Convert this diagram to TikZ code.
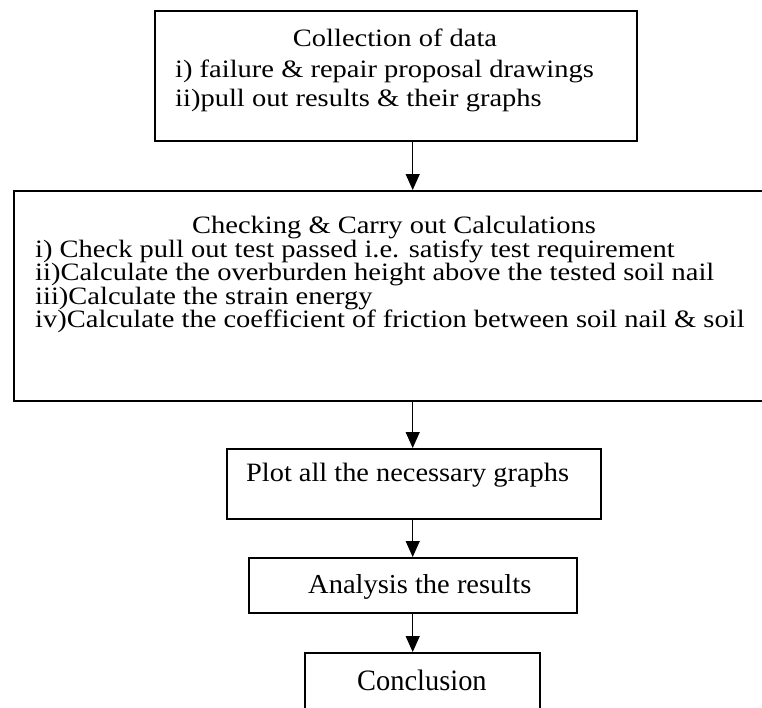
\documentclass[tikz,border=0pt]{standalone}
\usepackage{fontspec}
\setmainfont{Liberation Serif}
\newfontfamily\fa{Liberation Serif}[FakeStretch=1.14]
\newfontfamily\fb{Liberation Serif}[FakeStretch=1.07]
\newfontfamily\fc{Liberation Serif}[FakeStretch=1.04]
\newfontfamily\fd{Liberation Serif}[FakeStretch=0.96]
\usetikzlibrary{arrows.meta}
\tikzset{
  box/.style={draw=black, line width=1.6pt, rectangle, inner sep=0pt, anchor=north west},
  txt/.style={inner sep=0pt, text=black},
  txta/.style={txt, font={\fontsize{25}{26}\fa}},
  arr/.style={draw=black, line width=1.2pt, -{Triangle[width=14pt,length=16pt]}}
}
\begin{document}
\begin{tikzpicture}[x=1pt, y=-1pt]
\path[use as bounding box] (0,0) rectangle (762,707);
\clip (0,0) rectangle (762,707);
\coordinate (ax) at (412.7,0);
% box 1
\node[box, minimum width=482pt, minimum height=130pt] (collect) at (154,10) {};
\node[txta, anchor=base] (collectT) at (395,46.7) {Collection of data};
\node[txta, anchor=base west] (collect1) at (175,77) {i) failure \& repair proposal drawings};
\node[txta, anchor=base west] (collect2) at (175,106) {ii)pull out results \& their graphs};
% box 2
\node[box, minimum width=762pt, minimum height=210pt] (check) at (13,190) {};
\node[txta, anchor=base] (checkT) at (394,233) {Checking \& Carry out Calculations};
\node[txta, anchor=base west] (check1) at (35,257) {i) Check pull out test passed i.e. satisfy test requirement};
\node[txta, anchor=base west] (check2) at (35,280.5) {ii)Calculate the overburden height above the tested soil nail};
\node[txta, anchor=base west] (check3) at (35,304) {iii)Calculate the strain energy};
\node[txta, anchor=base west] (check4) at (35,327.5) {iv)Calculate the coefficient of friction between soil nail \& soil};
% box 3
\node[box, minimum width=374pt, minimum height=70pt] (plot) at (226,448) {};
\node[txt, anchor=base west, font={\fontsize{26.5}{28}\fb}] (plotT) at (246,481.7) {Plot all the necessary graphs};
% box 4
\node[box, minimum width=328pt, minimum height=55pt] (analysis) at (248,557) {};
\node[txt, anchor=base west, font={\fontsize{27.4}{29}\fc}] (analysisT) at (308,593) {Analysis the results};
% box 5
\node[box, minimum width=235pt, minimum height=80pt] (concl) at (304,652) {};
\node[txt, anchor=base west, font={\fontsize{29.6}{32}\fd}] (conclT) at (357,690) {Conclusion};
% arrows
\draw[arr] (collect.south -| ax) -- (check.north -| ax);
\draw[arr] (check.south -| ax) -- (plot.north -| ax);
\draw[arr] (plot.south -| ax) -- (analysis.north -| ax);
\draw[arr] (analysis.south -| ax) -- (concl.north -| ax);
\end{tikzpicture}
\end{document}
